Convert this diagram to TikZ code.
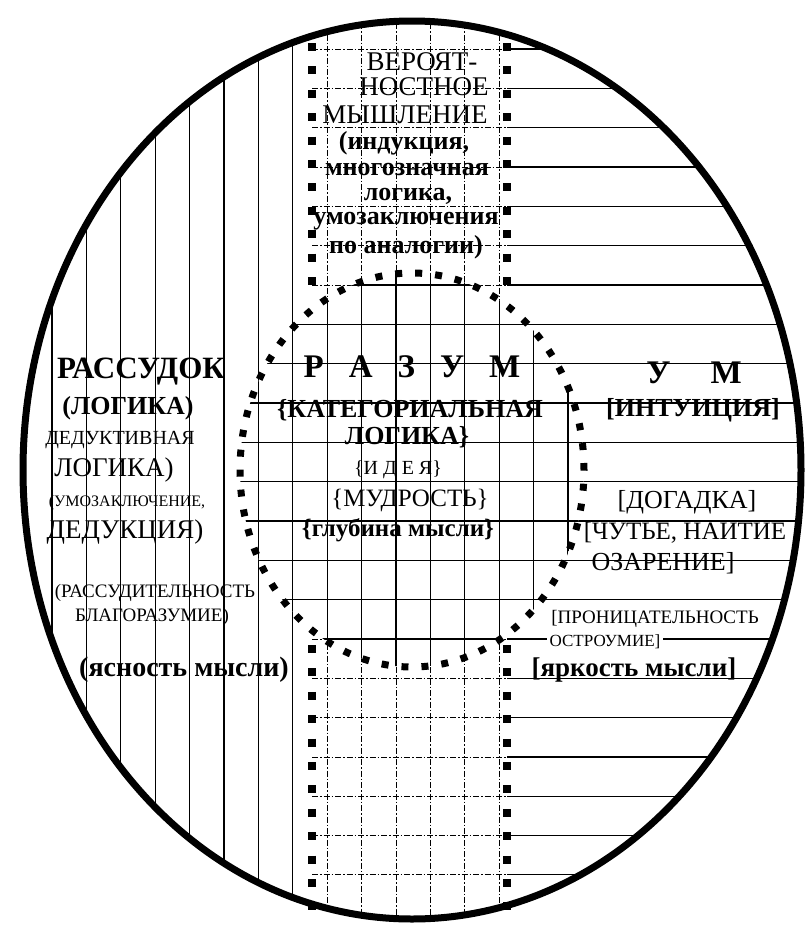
\documentclass[tikz,border=0pt]{standalone}
\usepackage{fontspec}
\IfFontExistsTF{LiberationSerif-Regular.ttf}
  {\setmainfont{LiberationSerif}[Extension=.ttf, UprightFont=*-Regular, BoldFont=*-Bold,
     ItalicFont=*-Italic, BoldItalicFont=*-BoldItalic]}
  {\setmainfont{Liberation Serif}}

\newcommand{\fsz}[1]{\fontsize{#1}{#1}\selectfont}

\begin{document}
\begin{tikzpicture}[x=1pt, y=-1pt,
  hatch/.style={line width=1.1pt},
  dashdot/.style={line width=0.9pt, dash pattern=on 6pt off 2pt on 1.5pt off 2pt},
  sqdots/.style={line width=8pt, dash pattern=on 8pt off 15.4pt},
  txt/.style={inner sep=0pt, font=\rmfamily}]
\useasboundingbox (0,0) rectangle (810,929);

% hatching, kept inside the big oval
\begin{scope}
\clip (412,470) ellipse [x radius=389pt, y radius=449pt];
\foreach \i in {8,...,13} \draw[dashdot] ({52+34.4*\i},0) -- ({52+34.4*\i},929);
\foreach \j in {0,...,21} \draw[dashdot] (312,{49+39.33*\j}) -- (507,{49+39.33*\j});
\foreach \i in {0,...,7} \draw[hatch] ({52+34.4*\i},0) -- ({52+34.4*\i},929);
\foreach \j in {0,...,21} \draw[hatch] (507,{49+39.33*\j}) -- (810,{49+39.33*\j});
\fill[white] (412,470) ellipse [x radius=172pt, y radius=197pt];
\begin{scope}
\clip (412,470) ellipse [x radius=172pt, y radius=197pt];
\foreach \i in {6,...,15} \draw[hatch] ({52+34.4*\i},260) -- ({52+34.4*\i},680);
\foreach \j in {5,...,16} \draw[hatch] (230,{49+39.33*\j}) -- (600,{49+39.33*\j});
\end{scope}
\end{scope}

% dotted circle and band borders
\draw[line width=7pt, dash pattern=on 7pt off 13pt] (412,470) ellipse [x radius=172pt, y radius=197pt];
\draw[sqdots] (312,43) -- (312,298);
\draw[sqdots] (507,43) -- (507,298);
\draw[sqdots] (312,645) -- (312,916);
\draw[sqdots] (507,645) -- (507,916);

% outer oval
\draw[line width=7pt] (412,470) ellipse [x radius=389pt, y radius=449pt];

% top band
\node (ver1) at (422,62) [txt, font=\fsz{27}] {ВЕРОЯТ-};
\node (ver2) at (424,87) [txt, font=\fsz{27}] {НОСТНОЕ};
\node (ver3) at (405,115) [txt, font=\fsz{27}] {МЫШЛЕНИЕ};
\node (ver4) at (404,143) [txt, font=\fsz{26}\bfseries] {(индукция,};
\node (ver5) at (407,169) [txt, font=\fsz{26}\bfseries] {многозначная};
\node (ver6) at (408,196) [txt, font=\fsz{26}\bfseries] {логика,};
\node (ver7) at (406,221) [txt, font=\fsz{26}\bfseries] {умозаключения};
\node (ver8) at (406,247) [txt, font=\fsz{26}\bfseries] {по аналогии)};

% left
\node (rass) at (141,372) [txt, font=\fsz{31}\bfseries] {РАССУДОК};
\node (log1) at (128,408) [txt, font=\fsz{26}\bfseries] {(ЛОГИКА)};
\node (ded1) at (120,440) [txt, font=\fsz{20}] {ДЕДУКТИВНАЯ};
\node (log2) at (114,470) [txt, font=\fsz{27}] {ЛОГИКА)};
\node (umoz) at (127,503) [txt, font=\fsz{16}] {(УМОЗАКЛЮЧЕНИЕ,};
\node (ded2) at (125,532) [txt, font=\fsz{27}] {ДЕДУКЦИЯ)};
\node (rasd) at (155,593) [txt, font=\fsz{19}] {(РАССУДИТЕЛЬНОСТЬ};
\node (blag) at (152,617) [txt, font=\fsz{19}] {БЛАГОРАЗУМИЕ)};
\node (yasn) at (184,670) [txt, font=\fsz{28}\bfseries] {(ясность мысли)};

% centre
\node (razum) at (412,367) [txt, font=\fsz{33}\bfseries] {Р\hspace{25pt}А\hspace{25pt}З\hspace{25pt}У\hspace{25pt}М};
\node (kat) at (410,410) [txt, font=\fsz{26}\bfseries] {\{КАТЕГОРИАЛЬНАЯ};
\node (log3) at (407,437) [txt, font=\fsz{26}\bfseries] {ЛОГИКА\}};
\node (idea) at (398,470) [txt, font=\fsz{20}] {\{И Д Е Я\}};
\node (mudr) at (410,500) [txt, font=\fsz{25}] {\{МУДРОСТЬ\}};
\node (glub) at (398,530) [txt, font=\fsz{25}\bfseries] {\{глубина мысли\}};

% right
\node (um) at (694,373) [txt, font=\fsz{33}\bfseries] {У\hspace{40pt}М};
\node (intu) at (693,410) [txt, font=\fsz{26}\bfseries] {[ИНТУИЦИЯ]};
\node (dog) at (687,502) [txt, font=\fsz{26}] {[ДОГАДКА]};
\node (chut) at (685,533) [txt, font=\fsz{25}] {[ЧУТЬЕ, НАИТИЕ};
\node (ozar) at (663,563) [txt, font=\fsz{26}] {ОЗАРЕНИЕ]};
\node (pron) at (655,619) [txt, font=\fsz{19}] {[ПРОНИЦАТЕЛЬНОСТЬ};
\node (ostr) at (605,642) [txt, fill=white, inner xsep=3pt, font=\fsz{17}] {ОСТРОУМИЕ]};
\node (yark) at (634,670) [txt, font=\fsz{27}\bfseries] {[яркость мысли]};
\end{tikzpicture}
\end{document}
